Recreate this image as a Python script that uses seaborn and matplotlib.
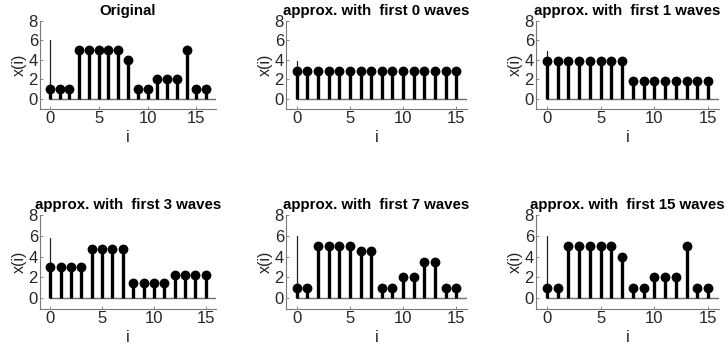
import numpy as np
import pandas as pd
import matplotlib
matplotlib.use("Agg")
import matplotlib.pyplot as plt
import seaborn as sns

original = [1, 1, 1, 5, 5, 5, 5, 5, 4, 1, 1, 2, 2, 2, 5, 1, 1]
approx0 = [2.875] * 16
approx1 = [3.875] * 8 + [1.875] * 8
approx3 = [3, 3, 3, 3, 4.75, 4.75, 4.75, 4.75, 1.5, 1.5, 1.5, 1.5, 2.25, 2.25, 2.25, 2.25]
approx7 = [1, 1, 5, 5, 5, 5, 4.5, 4.5, 1, 1, 2, 2, 3.5, 3.5, 1, 1]
approx15 = [1, 1, 5, 5, 5, 5, 5, 4, 1, 1, 2, 2, 2, 5, 1, 1]

titles = ["Original", "approx. with  first 0 waves", "approx. with  first 1 waves",
          "approx. with  first 3 waves", "approx. with  first 7 waves", "approx. with  first 15 waves"]
series = [original, approx0, approx1, approx3, approx7, approx15]
xticks = [0, 5, 10, 15]
yticks = [0, 2, 4, 6, 8]

sns.set_theme(style="ticks")
plt.rcParams['font.family'] = ['Liberation Sans', 'DejaVu Sans']

fig = plt.figure(figsize=(7.28, 3.51), dpi=100)
W, H = 728, 351
# pixel boxes: left, top, right, bottom
cols = [(40, 216), (286, 467), (536, 719)]
rows = [(21, 108.6), (215, 308.5)]

spine_c = "#7a7a7a"
text_c = "#262626"

for k, (vals, title) in enumerate(zip(series, titles)):
    r, c = divmod(k, 3)
    l, rgt = cols[c]
    t, b = rows[r]
    ax = fig.add_axes([l / W, 1 - b / H, (rgt - l) / W, (b - t) / H])
    n = len(vals)
    df = pd.DataFrame({"i": np.arange(n), "x": vals})
    # baseline and y reference line
    ax.plot([0, n], [0, 0], color="#6e6e6e", lw=1.0, zorder=1)
    ax.plot([0, 0], [0, max(vals) + 1], color="#222222", lw=0.9, zorder=1)
    ax.vlines(df["i"], 0, df["x"], color="black", lw=2.4, zorder=2)
    sns.scatterplot(data=df, x="i", y="x", ax=ax, color="black", s=50,
                    edgecolor="black", linewidth=0, zorder=3, legend=False)
    ax.set_xlim(-1, n)
    ax.set_ylim(-1, 8)
    ax.set_xticks(xticks)
    ax.set_yticks(yticks)
    for s in ["top", "right"]:
        ax.spines[s].set_visible(False)
    for s in ["left", "bottom"]:
        ax.spines[s].set_color(spine_c)
        ax.spines[s].set_linewidth(0.8)
    ax.tick_params(direction="in", length=2.5, width=0.6, color=spine_c,
                   labelsize=12, labelcolor=text_c)
    ax.tick_params(axis="x", pad=2)
    ax.tick_params(axis="y", pad=1.5)
    ax.set_xlabel("i", fontsize=12, color=text_c, labelpad=2.5)
    ax.set_ylabel("x(i)", fontsize=11.5, color=text_c, labelpad=1)
    ax.set_title(title, fontsize=10.8, fontweight="bold", color="black", pad=4.5)

fig.savefig("out.png", dpi=100)
